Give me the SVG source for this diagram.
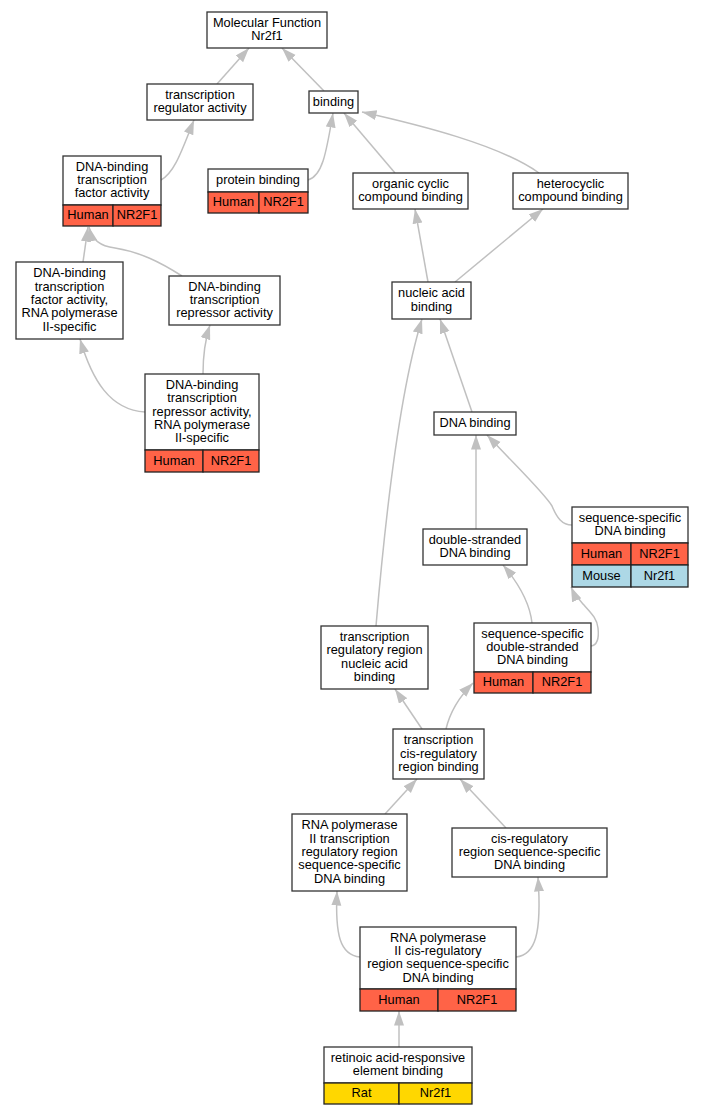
<svg xmlns="http://www.w3.org/2000/svg" width="703" height="1115" viewBox="0 0 703 1115">
<style>
text{font-family:"Liberation Sans",Arial,sans-serif;font-size:12.8px;fill:#000;text-anchor:middle}
.b{fill:#fff;stroke:#333;stroke-width:1.3}
.h{fill:#ff6347;stroke:#222;stroke-width:1.3}
.m{fill:#add8e6;stroke:#222;stroke-width:1.3}
.r{fill:#ffd700;stroke:#222;stroke-width:1.3}
.e path{fill:none;stroke:#c0c0c0;stroke-width:1.5;marker-end:url(#a)}
</style>
<defs>
<marker id="a" markerUnits="userSpaceOnUse" markerWidth="16" markerHeight="12" refX="14.5" refY="5" orient="auto">
<path d="M0,0 L14.5,5 L0,10 z" fill="#c0c0c0"/>
</marker>
</defs>
<rect width="703" height="1115" fill="#fff"/>
<g class="e" id="edges">
<path d="M217,84 L249,48"/>
<path d="M324,91 L282,48"/>
<path d="M161,180 C175,172 182,150 194,120"/>
<path d="M308,180 C322,176 326,155 333,113"/>
<path d="M395,173 L344,113"/>
<path d="M539,173 C500,145 420,125 362,112"/>
<path d="M83,262 L88,227"/>
<path d="M182,276 C160,262 140,252 115,248 C100,246 92,240 89,227"/>
<path d="M145,412 C110,410 92,380 80,339"/>
<path d="M203,374 C203,355 205,340 210,325"/>
<path d="M428,282 L415,209"/>
<path d="M455,282 L543,209"/>
<path d="M472,412 L440,319"/>
<path d="M376,626 C385,520 400,390 422,319"/>
<path d="M476,529 L476,435"/>
<path d="M572,525 C562,525 557,518 552,506 C545,494 520,470 487,435"/>
<path d="M532,623 C530,605 520,585 503,565"/>
<path d="M591,646 C598,645 599,637 598,628 C597,618 590,612 584,605 C578,598 574,594 571,587"/>
<path d="M422,729 L395,689"/>
<path d="M446,729 C450,712 458,698 473,683"/>
<path d="M385,814 L417,779"/>
<path d="M506,828 L460,779"/>
<path d="M360,957 C340,955 335,935 337,891"/>
<path d="M516,957 C535,955 542,935 538,877"/>
<path d="M399,1047 L399,1011"/>
</g>
<g id="n1"><rect class="b" x="207" y="12" width="120" height="36"/><text x="267" y="26.9">Molecular Function</text><text x="267" y="40.2">Nr2f1</text></g>
<g id="n2"><rect class="b" x="147" y="84" width="106" height="36"/><text x="200" y="98.9">transcription</text><text x="200" y="112.2">regulator activity</text></g>
<g id="n3"><rect class="b" x="309" y="91" width="49" height="22"/><text x="333.5" y="105.5">binding</text></g>
<g id="n4"><rect class="b" x="63" y="156" width="98" height="49"/><text x="112" y="170.7">DNA-binding</text><text x="112" y="184">transcription</text><text x="112" y="197.3">factor activity</text><rect class="h" x="63" y="205" width="50" height="21"/><rect class="h" x="113" y="205" width="48" height="21"/><text x="88" y="219">Human</text><text x="137" y="219">NR2F1</text></g>
<g id="n5"><rect class="b" x="208" y="169" width="100" height="23"/><text x="258" y="184">protein binding</text><rect class="h" x="208" y="192" width="51" height="21"/><rect class="h" x="259" y="192" width="49" height="21"/><text x="233.5" y="206">Human</text><text x="283.5" y="206">NR2F1</text></g>
<g id="n6"><rect class="b" x="353" y="173" width="115" height="36"/><text x="410.5" y="187.9">organic cyclic</text><text x="410.5" y="201.2">compound binding</text></g>
<g id="n7"><rect class="b" x="513" y="173" width="115" height="36"/><text x="570.5" y="187.9">heterocyclic</text><text x="570.5" y="201.2">compound binding</text></g>
<g id="n8"><rect class="b" x="16" y="262" width="107" height="77"/><text x="69.5" y="277.4">DNA-binding</text><text x="69.5" y="290.7">transcription</text><text x="69.5" y="304">factor activity,</text><text x="69.5" y="317.3">RNA polymerase</text><text x="69.5" y="330.6">II-specific</text></g>
<g id="n9"><rect class="b" x="169" y="276" width="111" height="49"/><text x="224.5" y="290.7">DNA-binding</text><text x="224.5" y="304">transcription</text><text x="224.5" y="317.3">repressor activity</text></g>
<g id="n10"><rect class="b" x="145" y="374" width="114" height="76"/><text x="202" y="388.9">DNA-binding</text><text x="202" y="402.2">transcription</text><text x="202" y="415.5">repressor activity,</text><text x="202" y="428.8">RNA polymerase</text><text x="202" y="442.1">II-specific</text><rect class="h" x="145" y="450" width="58" height="22"/><rect class="h" x="203" y="450" width="56" height="22"/><text x="174" y="464.5">Human</text><text x="231" y="464.5">NR2F1</text></g>
<g id="n11"><rect class="b" x="392" y="282" width="79" height="37"/><text x="431.5" y="297.4">nucleic acid</text><text x="431.5" y="310.7">binding</text></g>
<g id="n12"><rect class="b" x="434" y="412" width="82" height="23"/><text x="475" y="427">DNA binding</text></g>
<g id="n13"><rect class="b" x="423" y="529" width="104" height="36"/><text x="475" y="543.9">double-stranded</text><text x="475" y="557.2">DNA binding</text></g>
<g id="n14"><rect class="b" x="572" y="507" width="116" height="36"/><text x="630" y="521.9">sequence-specific</text><text x="630" y="535.2">DNA binding</text><rect class="h" x="572" y="543" width="59" height="22"/><rect class="h" x="631" y="543" width="57" height="22"/><text x="601.5" y="557.5">Human</text><text x="659.5" y="557.5">NR2F1</text><rect class="m" x="572" y="565" width="59" height="22"/><rect class="m" x="631" y="565" width="57" height="22"/><text x="601.5" y="579.5">Mouse</text><text x="659.5" y="579.5">Nr2f1</text></g>
<g id="n15"><rect class="b" x="321" y="626" width="107" height="63"/><text x="374.5" y="641.1">transcription</text><text x="374.5" y="654.4">regulatory region</text><text x="374.5" y="667.7">nucleic acid</text><text x="374.5" y="681">binding</text></g>
<g id="n16"><rect class="b" x="474" y="623" width="117" height="49"/><text x="532.5" y="637.7">sequence-specific</text><text x="532.5" y="651">double-stranded</text><text x="532.5" y="664.3">DNA binding</text><rect class="h" x="474" y="672" width="59" height="21"/><rect class="h" x="533" y="672" width="58" height="21"/><text x="503.5" y="686">Human</text><text x="562" y="686">NR2F1</text></g>
<g id="n17"><rect class="b" x="393" y="729" width="91" height="50"/><text x="438.5" y="744.2">transcription</text><text x="438.5" y="757.5">cis-regulatory</text><text x="438.5" y="770.8">region binding</text></g>
<g id="n18"><rect class="b" x="292" y="814" width="115" height="77"/><text x="349.5" y="829.4">RNA polymerase</text><text x="349.5" y="842.7">II transcription</text><text x="349.5" y="856">regulatory region</text><text x="349.5" y="869.3">sequence-specific</text><text x="349.5" y="882.6">DNA binding</text></g>
<g id="n19"><rect class="b" x="452" y="828" width="155" height="49"/><text x="529.5" y="842.7">cis-regulatory</text><text x="529.5" y="856">region sequence-specific</text><text x="529.5" y="869.3">DNA binding</text></g>
<g id="n20"><rect class="b" x="360" y="927" width="156" height="62"/><text x="438" y="941.6">RNA polymerase</text><text x="438" y="954.9">II cis-regulatory</text><text x="438" y="968.2">region sequence-specific</text><text x="438" y="981.5">DNA binding</text><rect class="h" x="360" y="989" width="78" height="22"/><rect class="h" x="438" y="989" width="78" height="22"/><text x="399" y="1003.5">Human</text><text x="477" y="1003.5">NR2F1</text></g>
<g id="n21"><rect class="b" x="324" y="1047" width="148" height="36"/><text x="398" y="1061.9">retinoic acid-responsive</text><text x="398" y="1075.2">element binding</text><rect class="r" x="324" y="1083" width="75" height="21"/><rect class="r" x="399" y="1083" width="73" height="21"/><text x="361.5" y="1097">Rat</text><text x="435.5" y="1097">Nr2f1</text></g>
</svg>
